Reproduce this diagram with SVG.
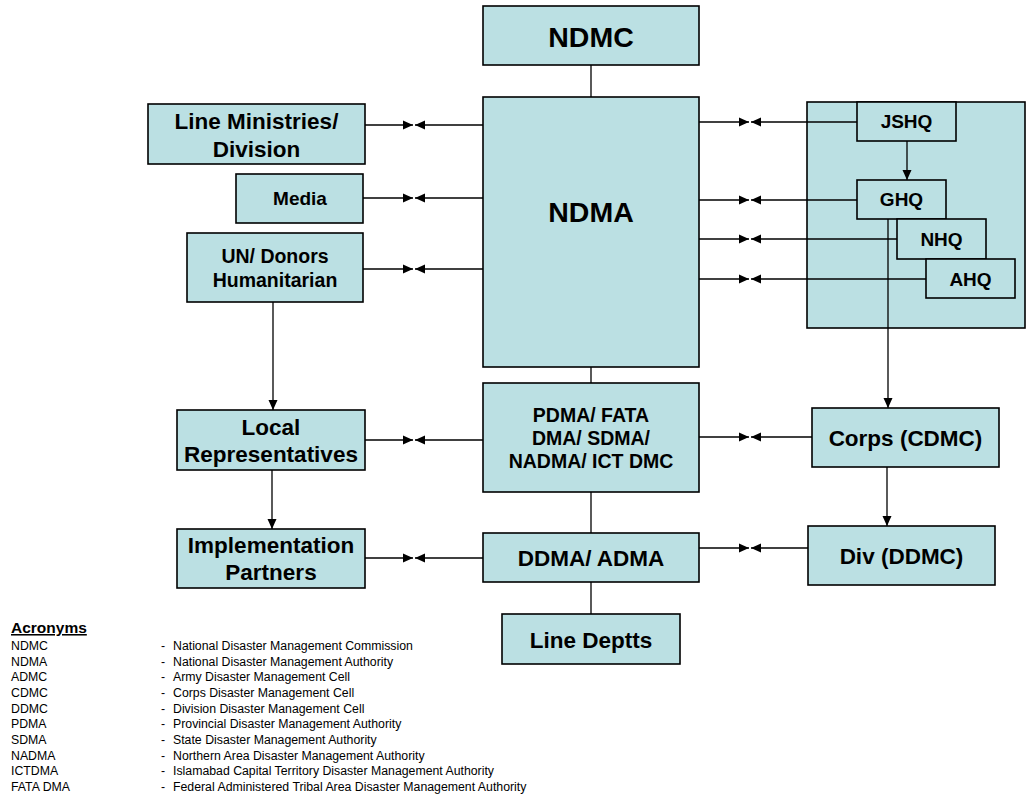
<svg xmlns="http://www.w3.org/2000/svg" width="1027" height="797" viewBox="0 0 1027 797">
<style>
.box{fill:#BBE0E3;stroke:#000;stroke-width:1.6}
.t{font-family:"Liberation Sans",Arial,sans-serif;font-weight:bold;fill:#000;text-anchor:middle}
.big{font-size:28.5px}
.l{font-size:22.5px}
.m{font-size:19.5px}
.s{font-size:19px}
.c{stroke:#000;stroke-width:1.3;fill:none}
.a{marker-end:url(#ah)}
.lg{font-family:"Liberation Sans",Arial,sans-serif;font-size:12.3px;fill:#000}
</style>
<defs>
<marker id="ah" markerUnits="userSpaceOnUse" markerWidth="10" markerHeight="10" viewBox="0 0 10 10" refX="10" refY="5" orient="auto">
<path d="M0,0.5 L10,5 L0,9.5 z" fill="#000"/>
</marker>
</defs>
<rect id="panel" class="box" x="807" y="102" width="218" height="226"/>
<g id="connectors">
<path class="c" d="M591,65 V97"/>
<path class="c" d="M591,367 V383"/>
<path class="c" d="M591,492 V533"/>
<path class="c" d="M591,582 V614"/>
<path class="c a" d="M365,125 H413"/><path class="c a" d="M483,125 H415"/>
<path class="c a" d="M363,198 H413"/><path class="c a" d="M483,198 H415"/>
<path class="c a" d="M363,269 H413"/><path class="c a" d="M483,269 H415"/>
<path class="c a" d="M365,440 H413"/><path class="c a" d="M483,440 H415"/>
<path class="c a" d="M365,558 H413"/><path class="c a" d="M483,558 H415"/>
<path class="c a" d="M699,122 H749"/><path class="c a" d="M857,122 H751"/>
<path class="c a" d="M699,200 H749"/><path class="c a" d="M857,200 H751"/>
<path class="c a" d="M699,239 H749"/><path class="c a" d="M897,239 H751"/>
<path class="c a" d="M699,279 H749"/><path class="c a" d="M926,279 H751"/>
<path class="c a" d="M699,437 H749"/><path class="c a" d="M812,437 H751"/>
<path class="c a" d="M699,548 H749"/><path class="c a" d="M808,548 H751"/>
<path class="c a" d="M273,302 V410"/>
<path class="c a" d="M272,470 V529"/>
<path class="c a" d="M907,141 V180"/>
<path class="c a" d="M888,219 V408"/>
<path class="c a" d="M887,467 V526"/>
</g>
<g id="ndmc"><rect class="box" x="483" y="6" width="216" height="59"/><text class="t big" x="591" y="47">NDMC</text></g>
<g id="ndma"><rect class="box" x="483" y="97" width="216" height="270"/><text class="t big" x="591" y="222">NDMA</text></g>
<g id="line-ministries"><rect class="box" x="148" y="104" width="217" height="60"/><text class="t l" x="256.5" y="129">Line Ministries/</text><text class="t l" x="256.5" y="157">Division</text></g>
<g id="media"><rect class="box" x="236" y="174" width="127" height="49"/><text class="t s" x="300" y="205">Media</text></g>
<g id="un-donors"><rect class="box" x="187" y="233" width="176" height="69"/><text class="t m" x="275" y="263">UN/ Donors</text><text class="t m" x="275" y="287">Humanitarian</text></g>
<g id="local-rep"><rect class="box" x="177" y="410" width="188" height="60"/><text class="t l" x="271" y="435">Local</text><text class="t l" x="271" y="462">Representatives</text></g>
<g id="impl-partners"><rect class="box" x="177" y="529" width="188" height="59"/><text class="t l" x="271" y="553">Implementation</text><text class="t l" x="271" y="580">Partners</text></g>
<g id="pdma"><rect class="box" x="483" y="383" width="216" height="109"/><text class="t m" x="591" y="422">PDMA/ FATA</text><text class="t m" x="591" y="445">DMA/ SDMA/</text><text class="t m" x="591" y="468">NADMA/ ICT DMC</text></g>
<g id="ddma"><rect class="box" x="483" y="533" width="216" height="49"/><text class="t l" x="591" y="566">DDMA/ ADMA</text></g>
<g id="line-deptts"><rect class="box" x="502" y="614" width="178" height="50"/><text class="t l" x="591" y="648">Line Deptts</text></g>
<g id="corps"><rect class="box" x="812" y="408" width="187" height="59"/><text class="t l" x="905.5" y="446">Corps (CDMC)</text></g>
<g id="div"><rect class="box" x="808" y="526" width="187" height="59"/><text class="t l" x="901.5" y="564">Div (DDMC)</text></g>
<g id="jshq"><rect class="box" x="857" y="102" width="99" height="39"/><text class="t s" x="906.5" y="128">JSHQ</text></g>
<g id="ghq"><rect class="box" x="857" y="180" width="89" height="39"/><text class="t s" x="901.5" y="206">GHQ</text></g>
<g id="nhq"><rect class="box" x="897" y="219" width="89" height="40"/><text class="t s" x="941.5" y="246">NHQ</text></g>
<g id="ahq"><rect class="box" x="926" y="259" width="89" height="39"/><text class="t s" x="970.5" y="285.5">AHQ</text></g>
<g id="legend">
<text x="11" y="633" style="font-family:'Liberation Sans',Arial,sans-serif;font-size:15.5px;font-weight:bold;text-decoration:underline">Acronyms</text>
<g class="lg">
<text x="11" y="650">NDMC</text><text x="161" y="650">-</text><text x="173" y="650">National Disaster Management Commission</text>
<text x="11" y="665.7">NDMA</text><text x="161" y="665.7">-</text><text x="173" y="665.7">National Disaster Management Authority</text>
<text x="11" y="681.3">ADMC</text><text x="161" y="681.3">-</text><text x="173" y="681.3">Army Disaster Management Cell</text>
<text x="11" y="697">CDMC</text><text x="161" y="697">-</text><text x="173" y="697">Corps Disaster Management Cell</text>
<text x="11" y="712.7">DDMC</text><text x="161" y="712.7">-</text><text x="173" y="712.7">Division Disaster Management Cell</text>
<text x="11" y="728.3">PDMA</text><text x="161" y="728.3">-</text><text x="173" y="728.3">Provincial Disaster Management Authority</text>
<text x="11" y="744">SDMA</text><text x="161" y="744">-</text><text x="173" y="744">State Disaster Management Authority</text>
<text x="11" y="759.7">NADMA</text><text x="161" y="759.7">-</text><text x="173" y="759.7">Northern Area Disaster Management Authority</text>
<text x="11" y="775.3">ICTDMA</text><text x="161" y="775.3">-</text><text x="173" y="775.3">Islamabad Capital Territory Disaster Management Authority</text>
<text x="11" y="791">FATA DMA</text><text x="161" y="791">-</text><text x="173" y="791">Federal Administered Tribal Area Disaster Management Authority</text>
</g>
</g>
</svg>
